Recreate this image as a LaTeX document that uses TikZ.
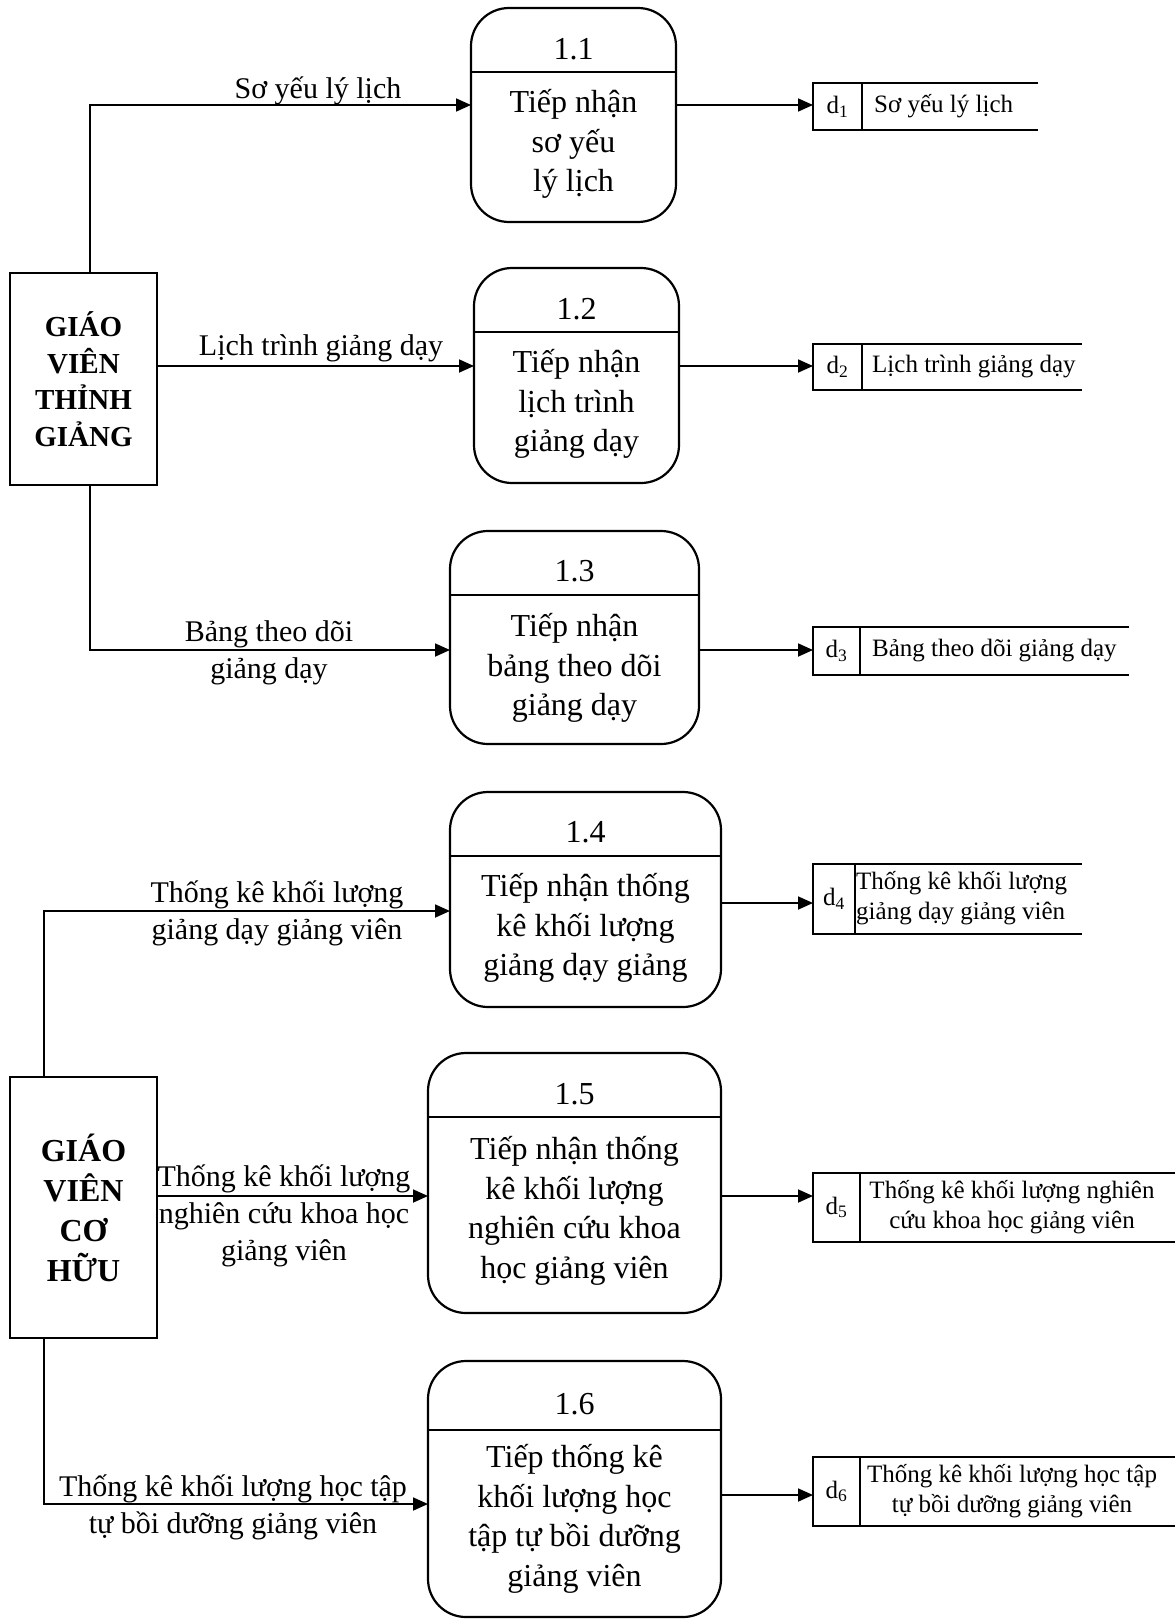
\documentclass[tikz,border=0pt]{standalone}
\usepackage{fontspec}
\setmainfont{Liberation Serif}
\usetikzlibrary{arrows.meta}

\begin{document}
\begin{tikzpicture}[x=1pt,y=-1pt,
  ent/.style={draw, line width=2.2pt, inner sep=0pt, outer sep=0pt, align=center,
    font=\bfseries\fontsize{29}{36.5}\selectfont},
  entb/.style={ent, font=\bfseries\fontsize{32}{40}\selectfont},
  proc/.style={draw, line width=2.2pt, rounded corners=38pt, inner sep=0pt, outer sep=0pt},
  div/.style={line width=2.2pt},
  num/.style={font=\fontsize{32}{38}\selectfont, inner sep=0pt},
  body/.style={align=center, font=\fontsize{32}{39.5}\selectfont, inner sep=0pt},
  lbl/.style={align=center, font=\fontsize{30}{37}\selectfont, inner sep=0pt},
  flow/.style={line width=1.8pt, -{Triangle[length=15pt,width=13pt]}},
  store/.style={line width=1.4pt},
  dcell/.style={font=\fontsize{25}{30}\selectfont, inner sep=0pt, outer sep=0pt},
  stxt/.style={font=\fontsize{25}{30}\selectfont, inner sep=0pt},
]
\useasboundingbox (0,0) rectangle (1175,1619);

% external entities
\node[ent, minimum width=147pt, minimum height=212pt] (e1) at (83.5,379) {GIÁO\\VIÊN\\THỈNH\\GIẢNG};
\node[entb, minimum width=147pt, minimum height=261pt] (e2) at (83.5,1207.5) {\raisebox{-3pt}{\parbox{140pt}{\centering GIÁO\\VIÊN\\CƠ\\HỮU}}};

% processes
\node[proc, minimum width=205pt, minimum height=214pt] (p1) at (573.5,115) {};
\draw[div] (p1.west |- 0,72) -- (p1.east |- 0,72);
\node[num] (n1) at (573.5,49) {1.1};
\node[body] (b1) at (573.5,144) {Tiếp nhận\\sơ yếu\\lý lịch};

\node[proc, minimum width=205pt, minimum height=215pt] (p2) at (576.5,375.5) {};
\draw[div] (p2.west |- 0,332) -- (p2.east |- 0,332);
\node[num] (n2) at (576.5,309) {1.2};
\node[body] (b2) at (576.5,404) {Tiếp nhận\\lịch trình\\giảng dạy};

\node[proc, minimum width=249pt, minimum height=213pt] (p3) at (574.5,637.5) {};
\draw[div] (p3.west |- 0,595) -- (p3.east |- 0,595);
\node[num] (n3) at (574.5,571) {1.3};
\node[body] (b3) at (574.5,668) {Tiếp nhận\\bảng theo dõi\\giảng dạy};

\node[proc, minimum width=271pt, minimum height=215pt] (p4) at (585.5,899.5) {};
\draw[div] (p4.west |- 0,856) -- (p4.east |- 0,856);
\node[num] (n4) at (585.5,832) {1.4};
\node[body] (b4) at (585.5,928) {Tiếp nhận thống\\kê khối lượng\\giảng dạy giảng};

\node[proc, minimum width=293pt, minimum height=260pt] (p5) at (574.5,1183) {};
\draw[div] (p5.west |- 0,1117) -- (p5.east |- 0,1117);
\node[num] (n5) at (574.5,1094) {1.5};
\node[body] (b5) at (574.5,1211) {Tiếp nhận thống\\kê khối lượng\\nghiên cứu khoa\\học giảng viên};

\node[proc, minimum width=293pt, minimum height=256pt] (p6) at (574.5,1489) {};
\draw[div] (p6.west |- 0,1430) -- (p6.east |- 0,1430);
\node[num] (n6) at (574.5,1404) {1.6};
\node[body] (b6) at (574.5,1519) {Tiếp thống kê\\khối lượng học\\tập tự bồi dưỡng\\giảng viên};

% data stores: left cell with the id, open at the right
\node[dcell, minimum width=49pt, minimum height=47pt] (d1) at (837.5,106.5) {d\textsubscript{1}};
\draw[store] (1038,83) -- (d1.north west) -- (d1.south west) -- (1038,130);
\draw[store] (d1.north east) -- (d1.south east);
\node[stxt, anchor=west] (s1) at (874,106.5) {Sơ yếu lý lịch};

\node[dcell, minimum width=49pt, minimum height=46pt] (d2) at (837.5,367) {d\textsubscript{2}};
\draw[store] (1082,344) -- (d2.north west) -- (d2.south west) -- (1082,390);
\draw[store] (d2.north east) -- (d2.south east);
\node[stxt, anchor=west] (s2) at (872,367) {Lịch trình giảng dạy};

\node[dcell, minimum width=47pt, minimum height=48pt] (d3) at (836.5,651) {d\textsubscript{3}};
\draw[store] (1129,627) -- (d3.north west) -- (d3.south west) -- (1129,675);
\draw[store] (d3.north east) -- (d3.south east);
\node[stxt, anchor=west] (s3) at (872,651) {Bảng theo dõi giảng dạy};

\node[dcell, minimum width=42pt, minimum height=70pt] (d4) at (834,899) {d\textsubscript{4}};
\draw[store] (1082,864) -- (d4.north west) -- (d4.south west) -- (1082,934);
\draw[store] (d4.north east) -- (d4.south east);
\node[stxt, anchor=west, align=left] (s4) at (856,898) {Thống kê khối lượng\\giảng dạy giảng viên};

\node[dcell, minimum width=47pt, minimum height=69pt] (d5) at (836.5,1207.5) {d\textsubscript{5}};
\draw[store] (1175,1173) -- (d5.north west) -- (d5.south west) -- (1175,1242);
\draw[store] (d5.north east) -- (d5.south east);
\node[stxt, align=center] (s5) at (1012,1207) {Thống kê khối lượng nghiên\\cứu khoa học giảng viên};

\node[dcell, minimum width=47pt, minimum height=69pt] (d6) at (836.5,1491.5) {d\textsubscript{6}};
\draw[store] (1175,1457) -- (d6.north west) -- (d6.south west) -- (1175,1526);
\draw[store] (d6.north east) -- (d6.south east);
\node[stxt, align=center] (s6) at (1012,1491) {Thống kê khối lượng học tập\\tự bồi dưỡng giảng viên};

% flows from the entities to the processes
\coordinate (k1) at (90,105);
\draw[flow] (e1.north -| k1) |- (p1.west |- k1);
\coordinate (k2) at (0,366);
\draw[flow] (e1.east |- k2) -- (p2.west |- k2);
\coordinate (k3) at (90,650);
\draw[flow] (e1.south -| k3) |- (p3.west |- k3);
\coordinate (k4) at (44,911);
\draw[flow] (e2.north -| k4) |- (p4.west |- k4);
\coordinate (k5) at (0,1196);
\draw[flow] (e2.east |- k5) -- (p5.west |- k5);
\coordinate (k6) at (44,1504);
\draw[flow] (e2.south -| k6) |- (p6.west |- k6);

% flow labels
\node[lbl] (l1) at (318,91) {Sơ yếu lý lịch};
\node[lbl] (l2) at (321,348) {Lịch trình giảng dạy};
\node[lbl] (l3) at (269,653) {Bảng theo dõi\\giảng dạy};
\node[lbl] (l4) at (277,913) {Thống kê khối lượng\\giảng dạy giảng viên};
\node[lbl] (l5) at (284,1216) {Thống kê khối lượng\\nghiên cứu khoa học\\giảng viên};
\node[lbl] (l6) at (233,1507) {Thống kê khối lượng học tập\\tự bồi dưỡng giảng viên};

% flows from the processes to the data stores
\draw[flow] (p1.east |- k1) -- (d1.west |- k1);
\draw[flow] (p2.east |- k2) -- (d2.west |- k2);
\draw[flow] (p3.east |- k3) -- (d3.west |- k3);
\coordinate (m4) at (0,903);
\draw[flow] (p4.east |- m4) -- (d4.west |- m4);
\coordinate (m5) at (0,1196);
\draw[flow] (p5.east |- m5) -- (d5.west |- m5);
\coordinate (m6) at (0,1495);
\draw[flow] (p6.east |- m6) -- (d6.west |- m6);
\end{tikzpicture}
\end{document}
